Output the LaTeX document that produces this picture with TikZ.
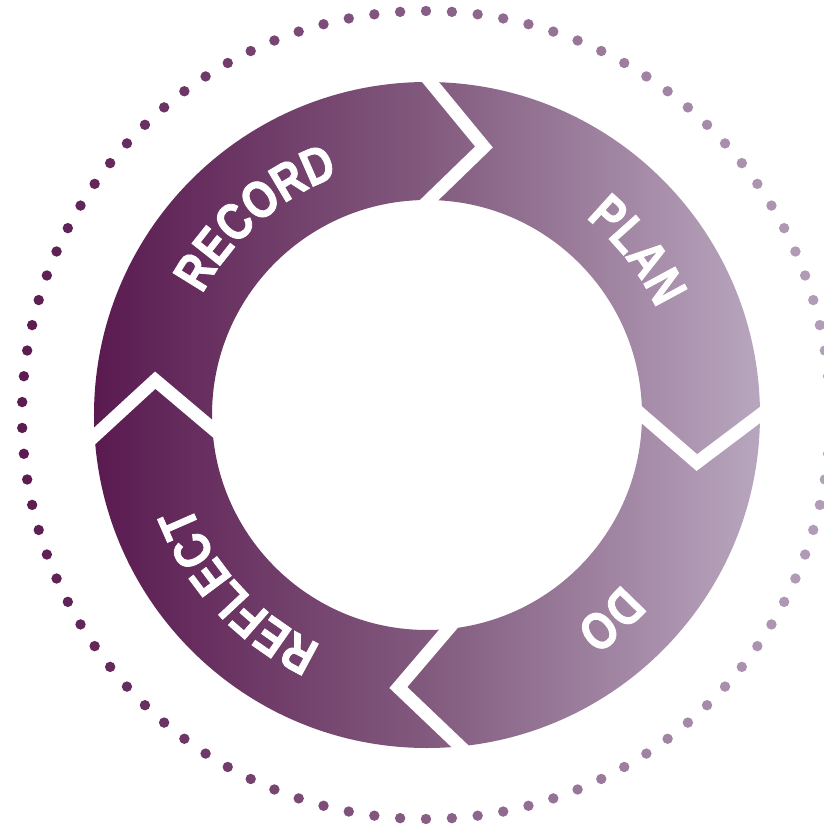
\documentclass[tikz,border=0pt]{standalone}
\usepackage{fontspec}
\usetikzlibrary{calc, decorations.text}

\newfontfamily\lblfont[FakeStretch=0.82, FakeBold=1.5]{Liberation Sans Bold}
\newcommand{\lblstyle}{\lblfont\fontsize{52}{52}\selectfont}

\definecolor{ringdark}{RGB}{90,26,80}
\definecolor{ringmid}{RGB}{130,90,126}
\definecolor{ringlight}{RGB}{184,166,190}
\definecolor{dotdark}{RGB}{92,28,82}
\definecolor{dotlight}{RGB}{180,160,186}

\begin{document}
\begin{tikzpicture}[
    x=1pt, y=1pt,
    mychevron/.style={draw=white, line width=13pt, line join=miter},
    mylabel/.style={decorate, decoration={text along path, text align=center,
        text color=white, text={|\lblstyle|#1}}}
]

    \useasboundingbox (-427,-418) rectangle (397,415);
    \clip (-427,-418) rectangle (397,415);

    % dotted circle
    \foreach \i in {0,...,97} {
        \pgfmathsetmacro\ang{90+\i*(360/98)}
        \pgfmathtruncatemacro\p{50*(1+cos(\ang))}
        \fill[dotlight!\p!dotdark] ($(-1,0)+(\ang:404)$) circle[radius=5.2];
    }

    % ring
    \shade[left color=ringdark, right color=ringlight, middle color=ringmid, even odd rule]
        (0,0) circle[radius=333] (0,0) circle[radius=215];

    % chevron gaps
    \foreach \a/\b in {89.4/78, 0/-10, -84.3/-96, 183.6/172.7}
        \draw[mychevron] ($(\b:274)!1.15!(\a:333)$) -- (\b:274) -- ($(\b:274)!1.15!(\a:215)$);

    % labels
    \path[mylabel=RECORD] (171:255) arc[start angle=171, end angle=91, radius=255];
    \path[mylabel=PLAN] (78:253) arc[start angle=78, end angle=-2, radius=253];
    \path[mylabel=DO] (-8:258) arc[start angle=-8, end angle=-88, radius=258];
    \path[mylabel=REFLECT] (-97:253) arc[start angle=-97, end angle=-177, radius=253];

\end{tikzpicture}
\end{document}
